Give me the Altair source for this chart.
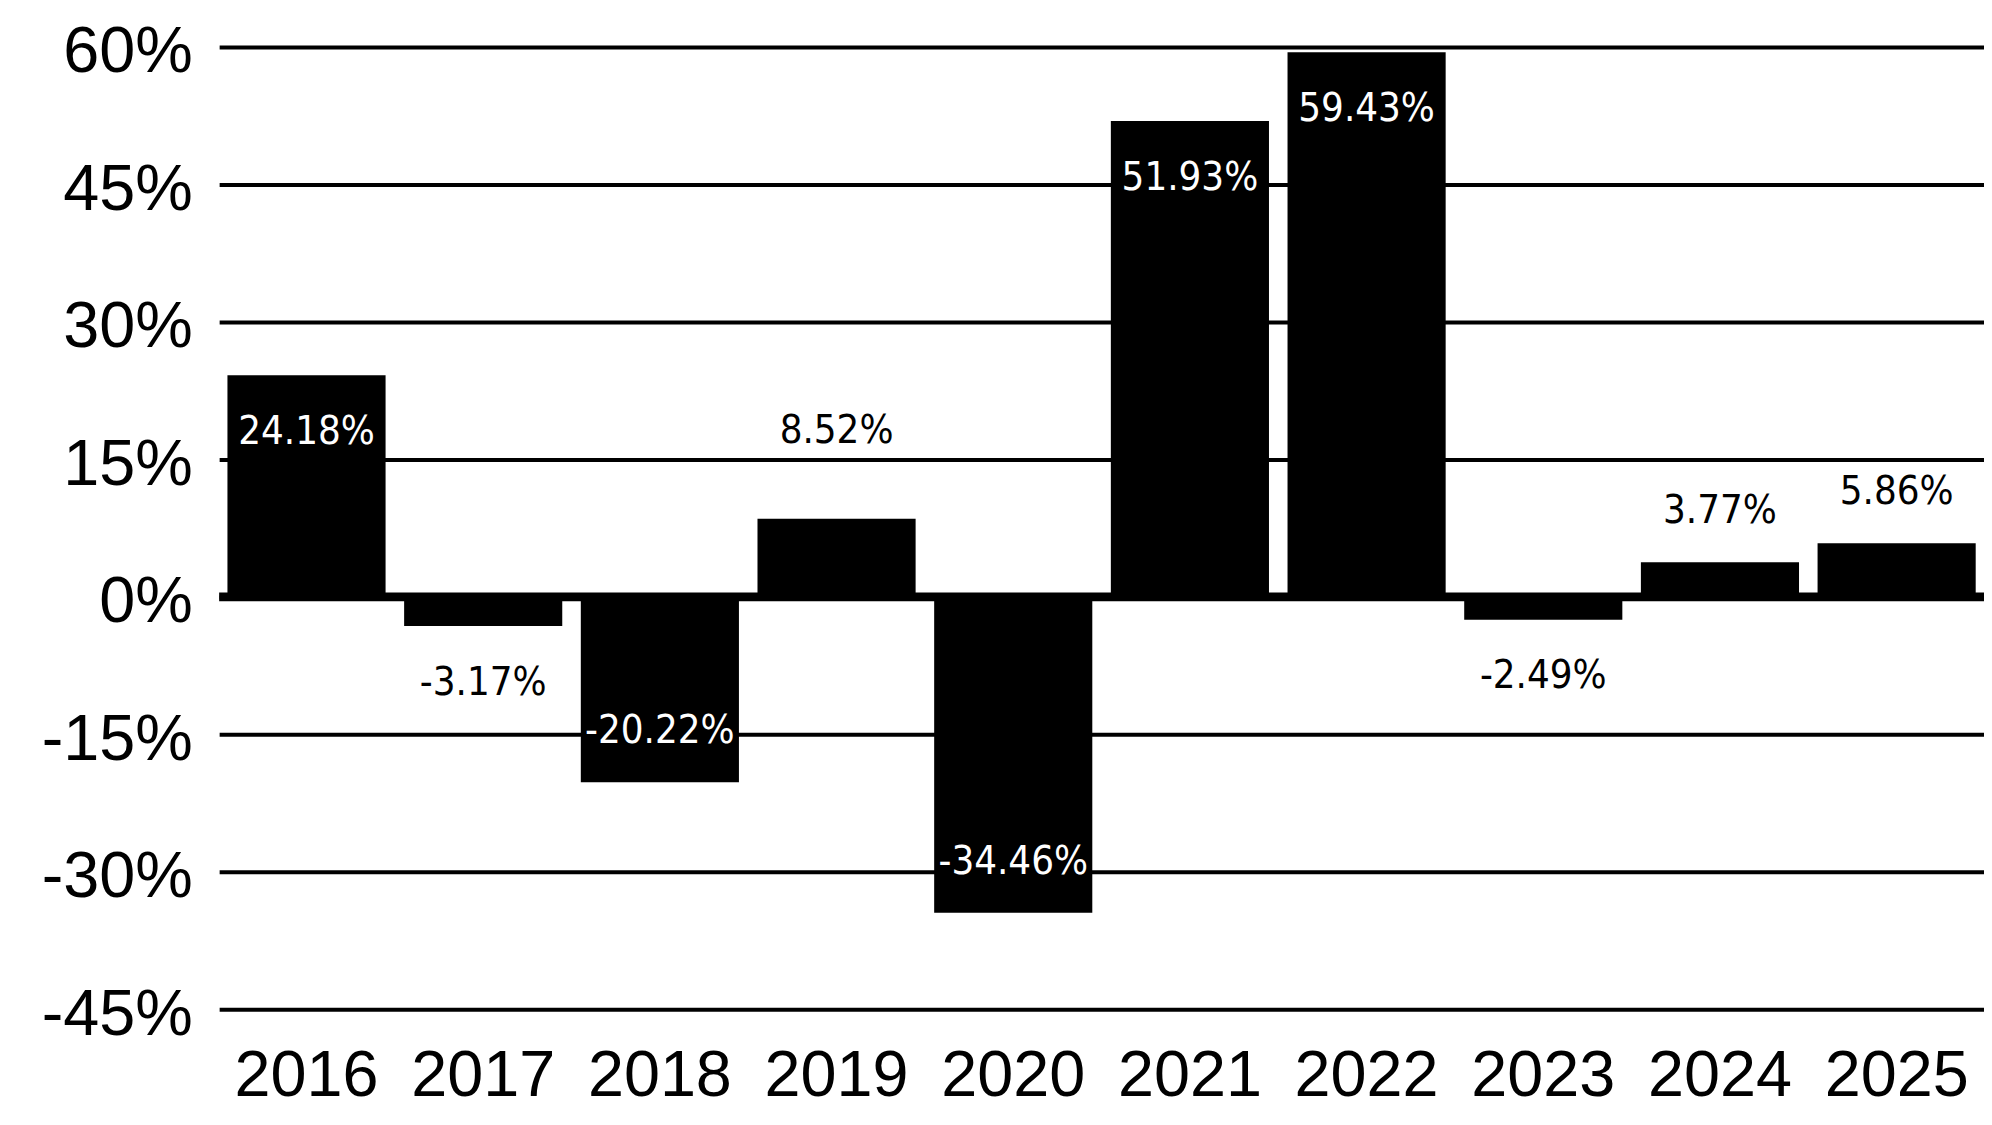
import altair as alt
import pandas as pd

# ---- data ----
years = ["2016", "2017", "2018", "2019", "2020", "2021", "2022", "2023", "2024", "2025"]
returns = [24.18, -3.17, -20.22, 8.52, -34.46, 51.93, 59.43, -2.49, 3.77, 5.86]
y_ticks = [-45, -30, -15, 0, 15, 30, 45, 60]

Y_MIN, Y_MAX = -45, 60
PLOT_W, PLOT_H = 1772, 966
UNIT = (Y_MAX - Y_MIN) / PLOT_H  # data units per pixel

# label placement rule: inside the bar when it is tall enough, otherwise outside;
# outside labels that would sit on a gridline are pushed past it
OFF = 54 * UNIT
HALF = 24 * UNIT
label_y, label_color = [], []
for v in returns:
    s = 1 if v >= 0 else -1
    if abs(v) >= 15:
        c = v - s * OFF
        col = "white"
    else:
        c = v + s * OFF
        col = "black"
        for g in y_ticks:
            if g != 0 and abs(c - g) < HALF + 3 * UNIT:
                c = g + s * (HALF + 7 * UNIT)
    label_y.append(c)
    label_color.append(col)

df = pd.DataFrame({
    "year": years,
    "value": returns,
    "label": [f"{v:.2f}%" for v in returns],
    "label_y": label_y,
    "color": label_color,
})

yscale = alt.Scale(domain=[Y_MIN, Y_MAX], nice=False, zero=False)
xscale = alt.Scale(paddingInner=0.105, paddingOuter=0.047)

x_axis = alt.Axis(
    title=None, labelAngle=0, labelFont="Liberation Sans", labelFontSize=65,
    labelColor="black", labelPadding=36, ticks=False, tickSize=0,
    domain=False, grid=False,
)
y_axis = alt.Axis(
    values=y_ticks, labelExpr="datum.value + '%'", title=None,
    grid=True, gridColor="black", gridWidth=4, gridOpacity=1,
    domain=False, ticks=False, tickSize=0,
    labelFont="Liberation Sans", labelFontSize=65, labelColor="black",
    labelPadding=27, labelOffset=5,
)

base = alt.Chart(df)

bars = base.mark_bar(color="black", strokeWidth=0).encode(
    x=alt.X("year:N", sort=years, scale=xscale, axis=x_axis),
    y=alt.Y("value:Q", scale=yscale, axis=y_axis),
    y2=alt.datum(0),
)

zero = alt.Chart(pd.DataFrame({"value": [0]})).mark_rule(
    color="black", strokeWidth=9
).encode(y=alt.Y("value:Q", scale=yscale, axis=y_axis))

labels = base.mark_text(
    font="DejaVu Sans Condensed, Liberation Sans",
    fontSize=40,
    baseline="middle", align="center", dy=3,
).encode(
    x=alt.X("year:N", sort=years, scale=xscale, axis=x_axis),
    y=alt.Y("label_y:Q", scale=yscale, axis=y_axis),
    text="label:N",
    color=alt.Color("color:N", scale=None),
)

chart = alt.layer(bars, zero, labels).properties(
    width=PLOT_W,
    height=PLOT_H,
    autosize=alt.AutoSizeParams(type="none"),
    padding={"left": 212, "top": 37, "right": 0, "bottom": 112},
    background="white",
).configure_view(strokeWidth=0)

chart.save("out.html", embed_options={"renderer": "svg", "actions": False})
